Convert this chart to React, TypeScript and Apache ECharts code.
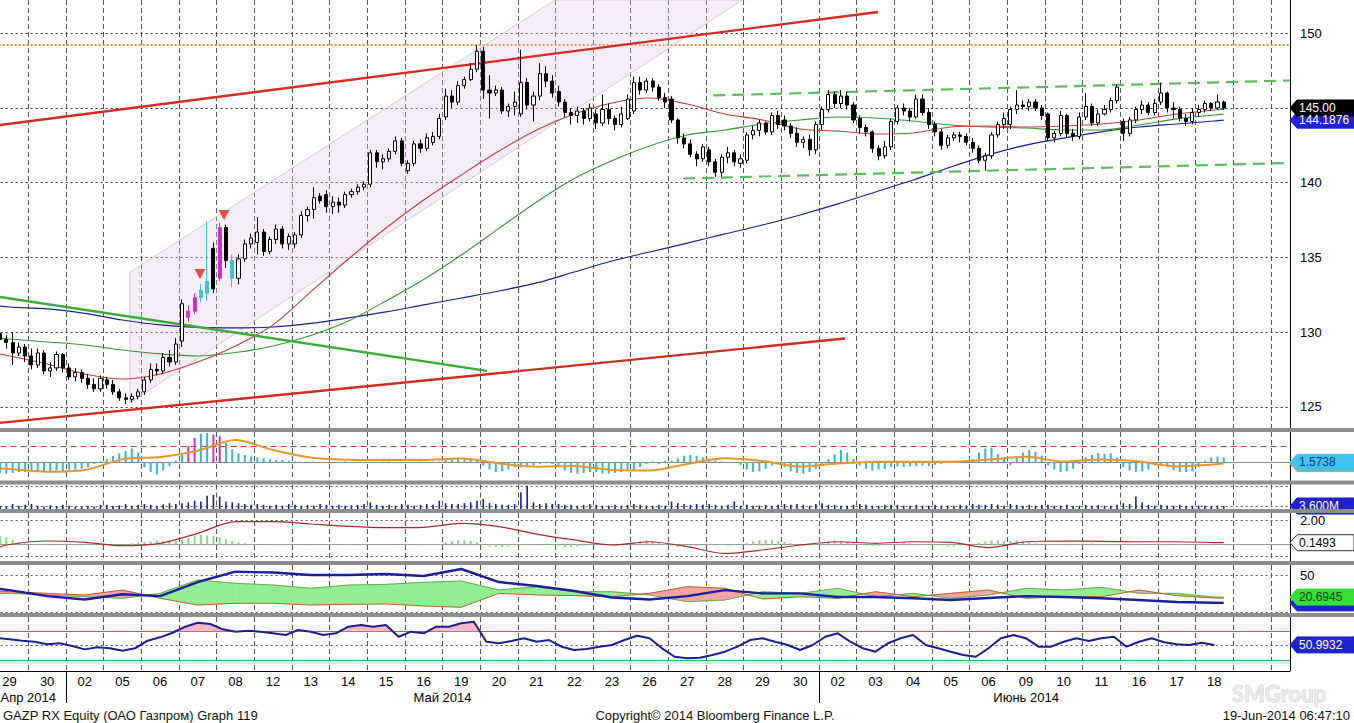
import React, { useEffect, useRef } from 'react';
import * as echarts from 'echarts';

const FONT = "'Liberation Sans', Arial, sans-serif";

// ---------- DATA ----------
const dayLabels = ['29','30','02','05','06','07','08','12','13','14','15','16','19','20','21','22','23','26','27','28','29','30','02','03','04','05','06','09','10','11','16','17','18'];
const monthNames = ['Апр 2014', 'Май 2014', 'Июнь 2014'];
const monthStartDay = [0, 2, 22];
const candlesPerDay = 6;

// [open, close, low, high]
const ohlc = [
  [129.6,129.9,129.3,130.2],[129.9,129.5,129.2,130.1],[129.5,129.3,128.9,129.8],[129.3,128.6,127.8,130.0],[128.6,129.0,128.4,129.3],[129.0,128.4,128.0,129.2],
  [128.4,127.8,127.5,128.9],[127.8,128.6,127.6,128.9],[128.6,127.4,127.2,128.8],[127.4,127.6,127.0,128.0],[127.6,128.5,127.4,128.7],[128.5,127.6,127.3,128.6],
  [127.6,127.0,126.8,127.9],[127.0,127.3,126.7,127.6],[127.3,126.9,126.6,127.5],[126.9,126.5,126.2,127.2],[126.5,126.2,126.0,126.9],[126.2,126.9,126.0,127.1],
  [126.8,126.5,126.2,127.0],[126.5,126.0,125.8,126.8],[126.0,125.6,125.4,126.2],[125.6,125.5,125.2,125.9],[125.5,125.7,125.3,125.9],[125.7,126.0,125.5,126.2],
  [126.0,126.8,125.8,127.0],[126.8,127.5,126.6,127.9],[127.5,127.4,127.1,127.9],[127.4,128.3,127.2,128.6],[128.3,128.0,127.7,128.8],[128.0,129.2,127.8,129.6],
  [129.4,131.9,129.0,132.2],[131.0,131.4,130.7,131.8],[131.4,132.3,131.2,132.6],[132.3,132.8,132.0,133.2],[132.6,133.4,132.1,137.4],[135.6,132.9,132.6,136.0],
  [133.6,137.0,133.4,137.3],[137.0,134.8,134.3,137.2],[134.8,133.6,133.0,135.2],[133.6,134.9,133.2,135.2],[134.9,135.9,134.7,136.2],[135.9,136.3,135.6,136.6],
  [136.0,136.7,135.2,137.7],[136.7,135.4,135.1,136.9],[135.4,136.2,135.2,136.4],[136.2,136.9,135.9,137.2],[136.9,135.9,135.6,137.1],[135.9,136.4,135.5,136.6],
  [135.9,136.5,135.6,136.7],[136.5,137.8,136.3,138.1],[137.8,138.2,137.4,138.4],[138.2,139.0,137.6,139.7],[139.1,138.8,138.6,139.3],[139.2,138.4,138.0,139.5],
  [138.4,138.7,137.9,139.1],[138.7,138.5,138.0,139.0],[138.5,139.2,138.3,139.4],[139.2,139.4,139.0,139.6],[139.4,139.7,139.2,139.9],[139.7,139.9,139.5,140.1],
  [139.9,142.0,139.7,142.2],[142.0,141.4,141.0,142.2],[141.4,141.6,140.9,141.9],[141.6,142.1,141.4,142.3],[142.1,142.8,141.9,143.1],[142.8,141.3,141.1,143.0],
  [140.8,141.3,140.6,141.5],[141.3,142.6,141.1,142.8],[142.6,142.3,142.0,142.9],[142.3,143.0,142.1,143.3],[142.7,143.1,142.5,143.4],[143.1,144.3,142.9,144.6],
  [144.4,145.8,144.2,146.3],[145.8,145.4,145.0,146.2],[145.4,146.5,145.2,146.8],[146.5,146.9,146.3,147.1],[146.9,147.6,146.8,148.0],[147.6,148.8,147.4,149.2],
  [148.8,146.2,145.6,149.1],[146.2,146.0,144.3,147.2],[146.0,146.2,145.8,146.5],[146.2,144.8,144.6,146.4],[144.8,145.1,144.4,145.3],[145.1,145.4,144.5,146.1],
  [144.6,146.7,144.4,148.9],[146.7,145.2,144.9,147.0],[145.2,145.8,144.1,146.1],[145.8,147.3,145.5,148.0],[147.3,146.8,146.4,147.8],[146.8,146.0,145.7,147.2],
  [146.1,145.4,145.1,146.5],[145.4,144.7,144.4,145.6],[144.7,144.5,143.9,145.0],[144.5,144.8,144.0,145.1],[144.8,144.3,143.9,145.0],[144.3,145.0,144.1,145.3],
  [144.6,144.0,143.6,144.9],[144.0,144.9,143.8,145.9],[144.9,144.3,143.9,145.3],[144.3,143.9,143.5,144.5],[143.9,144.6,143.7,145.1],[144.3,145.6,144.2,145.9],
  [144.8,146.7,144.6,147.1],[146.7,146.2,145.9,147.1],[146.2,146.8,146.0,147.0],[146.8,146.4,146.1,147.0],[146.4,145.7,145.5,146.6],[145.7,145.4,145.0,146.0],
  [145.6,144.2,144.0,145.8],[144.2,143.0,142.6,144.3],[143.0,142.6,142.3,143.3],[142.6,141.9,141.7,142.9],[141.9,141.6,141.1,142.1],[141.6,142.4,141.4,142.6],
  [142.2,141.4,141.1,142.4],[141.4,140.7,140.4,141.6],[140.7,141.7,140.4,141.9],[141.7,142.0,141.3,142.4],[142.0,141.4,141.1,142.2],[141.3,141.6,141.0,141.9],
  [141.5,143.2,141.3,143.4],[143.2,143.5,142.9,143.8],[143.5,144.0,143.1,144.2],[144.0,143.4,143.2,144.1],[143.4,144.5,143.2,144.7],[144.5,143.9,143.6,144.8],
  [144.2,143.8,143.5,144.5],[143.8,143.3,143.0,144.0],[143.3,142.7,142.4,143.7],[142.7,142.9,142.3,143.1],[142.9,142.2,141.8,143.2],[142.2,143.9,141.9,144.1],
  [143.9,144.9,143.5,145.1],[144.9,145.9,144.7,146.2],[145.9,145.3,145.0,146.1],[145.3,145.8,145.0,146.2],[145.8,145.2,144.9,146.1],[145.2,144.2,144.0,145.4],
  [144.3,143.7,143.3,144.5],[143.7,143.4,143.1,143.9],[143.4,142.3,142.0,143.5],[142.3,141.8,141.5,142.5],[141.8,142.4,141.6,142.8],[142.4,144.1,142.2,144.3],
  [144.1,145.0,143.9,145.2],[145.0,144.8,144.5,145.3],[144.8,144.4,144.1,145.0],[144.4,145.6,144.3,145.9],[145.6,144.7,144.5,145.9],[144.7,143.9,143.6,145.0],
  [143.9,143.4,143.1,144.1],[143.4,142.5,142.2,143.6],[142.5,143.0,142.3,143.2],[143.0,143.2,142.8,143.4],[143.2,143.1,142.7,143.4],[143.1,142.7,142.5,143.3],
  [142.7,142.3,142.0,143.0],[142.3,141.5,141.3,142.5],[141.5,141.8,140.8,142.0],[141.8,143.2,141.6,143.4],[143.2,143.9,143.0,144.1],[143.9,144.3,143.6,144.7],
  [143.9,144.9,143.6,145.1],[144.9,145.2,144.6,146.2],[145.2,145.1,144.9,145.5],[145.1,145.4,144.8,145.6],[145.4,145.0,144.8,145.6],[145.0,144.5,144.2,145.2],
  [144.6,143.0,142.8,144.7],[143.0,143.3,142.7,143.5],[143.3,144.5,143.1,144.8],[144.5,143.3,143.0,144.6],[143.3,143.1,142.8,143.6],[143.1,144.4,142.9,144.7],
  [144.4,145.1,144.2,146.0],[145.1,144.0,143.8,145.3],[144.0,144.6,143.8,144.9],[144.6,144.9,144.5,145.2],[144.9,145.5,144.7,145.7],[145.5,146.4,145.3,146.6],
  [144.1,143.3,142.8,144.3],[143.3,144.2,143.1,144.4],[144.2,144.9,144.0,145.1],[144.9,145.2,144.6,145.5],[145.2,144.7,144.5,145.4],[144.7,145.3,144.5,145.6],
  [145.4,146.0,145.2,146.7],[146.0,145.0,144.7,146.1],[145.0,144.9,144.3,145.4],[144.9,144.3,144.1,145.1],[144.3,144.1,143.8,144.6],[144.1,144.7,143.9,145.0],
  [144.7,144.9,144.4,145.2],[144.9,145.3,144.7,145.5],[145.3,145.0,144.8,145.4],[145.0,145.4,144.9,145.9],[145.4,145.0,144.9,145.5],
];
const magentaCandles = [31, 32, 36];
const cyanCandles = [33, 34, 38];

const volumeM = [
  5,4,3.5,6,4,5, 6,4,3,4.5,3.5,5, 4,3,3.5,4,3,5, 5,4,4.5,6,4,5, 6,5,4,5.5,7,6,
  7,8,10,9,16,17, 15,9,8,7,6,5, 6,5,4,5,4,6, 5,4,5,4,6,5, 4,5,4,4.5,5,6,
  8,5,4,5,4,6, 5,4,5,6,5,10, 7,6,6,7,8,10, 12,7,6,5,5,6, 20,28,8,6,7,6,
  6,5,5,4,5,6, 5,4,4,5,4,5, 6,5,4,4,5,4, 9,7,6,5,6,5, 6,5,4,5,9,4,
  5,4,4,5,4,5, 6,5,6,5,4,6, 7,5,5,4,4,5, 6,5,4,4,5,5, 5,4,4,5,4,4,
  5,4,4,4,5,4, 6,5,5,6,5,4, 6,5,4,5,4,5, 5,4,4,5,4,4, 5,4,5,4,4,5,
  7,6,15,8,5,4, 5,4,4,5,4,4, 4,4,3.5,4,3.6,
];

const macdHist = [
  -0.6,-0.65,-0.7,-0.65,-0.6,-0.6, -0.55,-0.6,-0.6,-0.55,-0.5,-0.55, -0.45,-0.45,-0.4,-0.3,-0.1,0.05,
  0.2,0.4,0.55,0.7,0.85,0.6, -0.3,-0.6,-0.75,-0.5,-0.25,0.1, 0.5,1.0,1.5,1.75,1.8,1.7,
  1.6,1.2,0.8,0.55,0.45,0.35, 0.3,0.25,0.2,0.15,0.15,0.1, 0.05,0.03,0.02,0.04,0.02,0.03,
  0.02,0.03,0.05,0.02,0.03,0.02, 0.03,0.02,0.03,0.04,0.02,0.01, 0.02,0.01,0.03,0.02,0.04,0.05,
  0.15,0.25,0.3,0.28,0.25,0.2, -0.2,-0.45,-0.6,-0.55,-0.45,-0.3, -0.3,-0.25,-0.2,-0.1,-0.05,-0.1,
  -0.3,-0.5,-0.65,-0.7,-0.65,-0.6, -0.6,-0.7,-0.7,-0.65,-0.6,-0.55, -0.5,-0.3,-0.1,0.05,-0.1,0.1,
  0.1,0.25,0.4,0.45,0.4,0.3, 0.2,0.1,0.05,0.02,-0.05,-0.15, -0.45,-0.6,-0.55,-0.4,-0.2,-0.1,
  -0.3,-0.55,-0.65,-0.7,-0.6,-0.4, -0.2,0.2,0.5,0.75,0.6,0.2, -0.2,-0.4,-0.5,-0.45,-0.4,-0.3,
  -0.25,-0.3,-0.25,-0.25,-0.2,-0.25, -0.15,-0.1,0.05,0.08,0.02,-0.05, 0.2,0.6,0.85,0.9,0.5,0.2,
  -0.2,0.3,0.6,0.75,0.65,0.4, -0.2,-0.45,-0.6,-0.55,-0.4,-0.1, 0.3,0.45,0.55,0.5,0.55,0.3,
  -0.3,-0.5,-0.6,-0.55,-0.45,-0.2, -0.1,-0.3,-0.5,-0.6,-0.6,-0.55, -0.3,0.1,0.3,0.35,0.3,
];
const histMagenta = [31, 32, 35, 36];

const oscHist = [
  0.6,0.7,0.6,0.4,0.2,0.1, 0.05,0,-0.05,0,0.02,0, -0.05,-0.05,-0.08,-0.05,-0.05,-0.03,
  -0.05,-0.03,0,0.05,0.1,0.15, 0.2,0.25,0.3,0.3,0.35,0.3, 0.4,0.55,0.7,0.8,0.75,0.7,
  0.6,0.45,0.3,0.2,0.1,0.05, 0.02,0,-0.02,0.03,0.02,0, 0.01,0.02,0,0.01,0.02,0,
  0,0.01,0.02,0.01,0,0.01, 0.02,0.01,0,0.01,0.02,0.01, 0,0.02,0.04,0.02,0,0.02,
  0.15,0.25,0.35,0.35,0.3,0.2, -0.05,-0.15,-0.2,-0.2,-0.15,-0.1, -0.05,0,0.02,0,-0.02,-0.05,
  -0.1,-0.2,-0.2,-0.15,-0.1,-0.05, 0,0.02,0,0.02,0.05,0.1, 0.2,0.3,0.35,0.3,0.2,0.05,
  -0.1,-0.2,-0.2,-0.15,-0.1,0, 0.05,0.02,-0.05,-0.1,-0.05,0, 0.1,0.25,0.35,0.4,0.35,0.3,
  0.2,0.1,0.02,0,-0.02,0, 0.1,0.25,0.35,0.3,0.2,0.1, -0.05,-0.1,-0.12,-0.1,-0.05,0,
  0.05,0.1,0.08,0.05,0.02,0, -0.05,-0.1,-0.15,-0.15,-0.1,-0.05, 0.05,0.15,0.25,0.35,0.35,0.3,
  0.3,0.35,0.3,0.2,0.1,0.05, 0.02,0,0.03,0.05,0.03,0, 0.05,0.08,0.05,0.03,0.02,0.04,
  0.03,0.05,0.02,0,0.02,0.03, 0.02,0,0.01,0.03,0.02,0, 0.02,0.03,0.02,0,0.01,
];

// line values at: left edge, the middle of each day, end of data
const maRed = [128.67,128.40,127.87,127.20,126.86,127.20,128.0,129.07,130.48,132.69,134.89,136.97,138.84,140.52,142.12,143.53,144.60,145.34,145.67,145.27,144.60,144.20,143.60,143.46,143.26,143.33,143.73,143.80,143.73,143.80,143.93,144.20,144.60,144.87,144.90];
const maGreen = [129.61,129.54,129.34,129.14,128.80,128.54,128.40,128.63,129.07,129.77,130.74,132.08,133.52,135.16,136.94,138.71,140.28,141.47,142.46,143.19,143.53,143.93,144.20,144.40,144.33,144.13,143.86,143.73,143.66,143.53,143.53,143.86,144.27,144.53,144.60];
const maBlue = [131.81,131.68,131.55,131.25,130.81,130.48,130.31,130.28,130.34,130.58,130.95,131.35,131.82,132.28,132.75,133.29,134.02,134.76,135.36,135.96,136.57,137.17,137.84,138.58,139.38,140.18,141.05,141.86,142.52,142.99,143.40,143.73,143.93,144.13,144.19];
const macdSignal = [-0.35,-0.41,-0.58,-0.47,0.18,0.33,0.71,1.37,0.75,0.29,0.16,0.14,0.14,0.23,-0.07,-0.27,-0.23,-0.47,-0.5,-0.1,0.25,0.08,-0.26,-0.07,0.04,0.04,0.03,0.17,0.34,0.05,0.17,0.05,-0.26,-0.13,-0.08];
const oscLine = [-0.45,0.0,0.29,0.18,-0.1,0.1,0.93,1.9,1.9,1.71,1.51,1.4,1.43,1.76,1.49,0.87,0.38,-0.04,0.23,-0.18,-0.74,-0.46,-0.04,0.23,0.1,0.23,0.18,-0.26,0.23,0.29,0.26,0.23,0.23,0.16,0.1493];
const adx = [32.8,30,22,17.5,24.4,22,40.7,54.4,53.3,50,50,51.3,48.7,58,40.7,35.4,28.8,20.2,17.5,22,30,25.7,25.7,20.8,20.8,19.1,16.8,19.5,22,20.8,19.1,16.8,14.2,13.3,13.0];
const diPlus = [25,25.7,23.5,21.2,19.1,25.7,43.4,39,36.7,32.4,36.7,37.6,40.3,42,30.1,34.5,27.9,27.9,23.5,14.6,16.8,27.9,25.7,32.4,21.2,25.7,19.1,23.5,32.4,30.1,33.7,25.7,25.7,20.7,20.69];
const diMinus = [28,27.9,25.7,23.5,30.1,19.1,10.2,12.5,12.5,10.2,11.1,11.6,8.9,7.2,25.7,23.5,22.6,21.2,25.7,34.5,32.4,18.2,21.2,19.1,27.9,21.2,25.7,30.1,19.1,21.2,21.2,30.1,22.6,19.5,19.2];

// RSI, three readings per day
const rsi = [
  60.3,58.5,56.7, 55.3,51.8,53.2, 49.5,45.0,47.7, 46.4,43.2,46.4, 56.7,61.2,67.4, 75.5,80.9,79.2,
  72.0,68.8,70.1, 68.8,66.6,64.3, 71.1,68.8,64.3, 66.6,75.5,77.8, 75.5,77.8,62.0, 68.8,66.6,75.5,
  75.5,80.1,82.3, 55.3,53.2,56.3, 59.9,55.3,57.6, 48.6,44.1,45.5, 48.6,50.9,57.6, 63.4,59.9,46.4,
  35.1,33.0,33.8, 37.4,41.9,48.6, 57.6,59.9,55.3, 50.9,44.1,50.9, 62.0,66.6,55.3, 46.4,41.9,53.2,
  59.9,64.3,50.9, 46.4,41.9,37.4, 35.1,46.4,59.9, 64.3,59.9,48.6, 48.6,55.3,59.9, 56.3,59.9,62.0,
  48.6,55.3,59.9, 54.5,51.8,50.9, 54.0,51.0,
];

const priceTicks = [125, 130, 135, 140, 145, 150];
const highLevel = 149.22;
const lastPrice = 145.0;
const lastMa200 = 144.1876;
const rsiLevels = [30, 50, 70];

// drawn studies, in [day, price]
const trendUpper = [[0, 143.78], [23.57, 151.43]];
const trendLower = [[0, 123.86], [22.69, 129.57]];
const trendGreen = [[0, 132.45], [13.18, 127.40]];
const channelTop = [[19.19, 145.84], [34.51, 146.84]];
const channelBottom = [[18.39, 140.28], [34.51, 141.32]];
const regressionBand = [[3.70, 134.02], [14.99, 152.23], [19.96, 152.23], [3.70, 125.26]];
const signalMarks = [[5.56, 133.89], [6.20, 137.84]];

const panelLabelText = ['1.5738', '3.600M', '0.1493', '20.6945', '50.9932'];
const panelLabelValue = [0, 3.6, 0.1493, 20.6945, 50.9932];

// ---------- LAYOUT ----------
const GRID_LEFT = -9.35;
const GRID_RIGHT = 64;
const AXIS_X = 1290;
const X_MAX = 34.51;
const grids = [
  { top: 0, height: 428 },
  { top: 432, height: 48.5 },
  { top: 484.5, height: 24.5 },
  { top: 513, height: 48 },
  { top: 565, height: 48 },
  { top: 617, height: 54 },
];
const yRanges = [
  [123.58, 152.23],
  [-1.117, 1.859],
  [0, 29.4],
  [-1.375, 2.625],
  [-0.4, 63.3],
  [15.86, 88.59],
];

const candleX = (i: number) => Math.floor(i / candlesPerDay) + ((i % candlesPerDay) + 0.5) / candlesPerDay;
const rsiX = (j: number) => Math.floor(j / 3) + ((j % 3) + 0.5) / 3;
const lineX = [0, ...Array.from({ length: 33 }, (_, k) => k + 0.5), 32.75];
const pairs = (vals: number[]) => vals.map((v, i) => [lineX[i], v]);

function fillBetween(xs: number[], a: number[], b: number[], upColor: string | null, downColor: string | null, axis: number, z: number) {
  const data = xs.slice(0, -1).map((x, i) => [x, a[i], xs[i + 1], a[i + 1], b[i], b[i + 1]]);
  return {
    type: 'custom', xAxisIndex: axis, yAxisIndex: axis, z, silent: true, clip: true,
    dimensions: ['x0', 'a0', 'x1', 'a1', 'b0', 'b1'],
    encode: { x: [0, 2], y: [1, 3, 4, 5] },
    data,
    renderItem: (params: any, api: any) => {
      const x0 = api.value(0), a0 = api.value(1), x1 = api.value(2), a1 = api.value(3), b0 = api.value(4), b1 = api.value(5);
      const d0 = a0 - b0, d1 = a1 - b1;
      const P = (x: number, y: number) => api.coord([x, y]);
      const children: any[] = [];
      const add = (pts: number[][], up: boolean) => {
        const fill = up ? upColor : downColor;
        if (fill) children.push({ type: 'polygon', shape: { points: pts }, style: { fill, stroke: fill, lineWidth: 0.6 } });
      };
      if (d0 * d1 < 0) {
        const t = d0 / (d0 - d1);
        const xc = x0 + t * (x1 - x0), yc = a0 + t * (a1 - a0);
        add([P(x0, a0), P(xc, yc), P(x0, b0)], d0 > 0);
        add([P(xc, yc), P(x1, a1), P(x1, b1)], d1 > 0);
      } else {
        add([P(x0, a0), P(x1, a1), P(x1, b1), P(x0, b0)], d0 + d1 > 0);
      }
      return { type: 'group', children };
    },
  };
}

const dotted = (color = '#444') => ({ color, type: [2, 3] as any, width: 1 });

function hLines(levels: { v: number; style: any }[]) {
  return {
    symbol: ['none', 'none'], silent: true, z: 1, animation: false,
    label: { show: false },
    data: levels.map((l) => ({ yAxis: l.v, lineStyle: l.style })),
  };
}

function buildOption() {
  const xAxes: any[] = grids.map((_, i) => ({
    type: 'value', gridIndex: i, min: 0, max: X_MAX, interval: 1,
    axisLine: { show: i === 5, onZero: false, lineStyle: { color: '#000', width: 1 } },
    axisTick: { show: false }, axisLabel: { show: false },
    splitLine: { show: true, lineStyle: { color: '#555', type: [5, 3], width: 1 } },
  }));
  const labelAxis = (offset: number, formatter: (v: number) => string) => ({
    type: 'value', gridIndex: 5, position: 'bottom', offset, min: 0, max: X_MAX, interval: 0.5,
    axisLine: { show: false }, axisTick: { show: false }, splitLine: { show: false },
    axisLabel: { show: true, margin: 4, color: '#000', fontSize: 13, fontFamily: FONT, formatter },
  });
  xAxes.push(labelAxis(0, (v) => {
    const k = v - 0.5;
    const r = Math.round(k);
    return Math.abs(k - r) < 1e-6 && r >= 0 && r < dayLabels.length ? dayLabels[r] : '';
  }));
  xAxes.push(labelAxis(16, (v) => {
    for (let m = 0; m < monthNames.length; m++) {
      const end = m + 1 < monthStartDay.length ? monthStartDay[m + 1] : dayLabels.length;
      if (Math.abs((monthStartDay[m] + end) / 2 - v) < 1e-6) return monthNames[m];
    }
    return '';
  }));

  const yAxes: any[] = grids.map((_, i) => i === 0 ? {
    type: 'value', gridIndex: 0, position: 'right', min: yRanges[0][0], max: yRanges[0][1],
    axisLine: { show: false },
    axisTick: { show: true, length: 6, lineStyle: { color: '#000' } },
    minorTick: { show: true, splitNumber: 2, length: 3, lineStyle: { color: '#000' } },
    axisLabel: {
      show: true, margin: 10, color: '#000', fontSize: 13, fontFamily: FONT, showMinLabel: false, showMaxLabel: false,
      // the last-price box sits over this tick, as in the original
      formatter: (v: number) => (Math.abs(v - lastPrice) < 1e-6 ? '' : String(v)),
    },
    splitLine: { show: false },
  } : {
    type: 'value', gridIndex: i, position: 'right', min: yRanges[i][0], max: yRanges[i][1], show: false,
    splitLine: { show: false },
  });

  const line = (data: any[], axis: number, color: string, width: number, extra: any = {}) => ({
    type: 'line', xAxisIndex: axis, yAxisIndex: axis, data, showSymbol: false, symbol: 'none', silent: true,
    lineStyle: { color, width }, z: 3, ...extra,
  });

  const candleData = ohlc.map((c, i) => {
    const value = [candleX(i), c[0], c[1], c[2], c[3]];
    const col = magentaCandles.includes(i) ? '#c934c9' : cyanCandles.includes(i) ? '#3cc3d6' : null;
    return col ? { value, itemStyle: { color: col, color0: col, borderColor: col, borderColor0: col } } : value;
  });

  const series: any[] = [
    {
      type: 'custom', xAxisIndex: 0, yAxisIndex: 0, z: 1, silent: true, clip: true,
      encode: { x: 0, y: 1 }, data: regressionBand,
      renderItem: (params: any, api: any) => params.dataIndex !== 0 ? null : ({
        type: 'polygon', shape: { points: regressionBand.map((p) => api.coord(p)) },
        style: { fill: 'rgba(222,196,232,0.33)', stroke: '#d9c5de', lineWidth: 1 },
      }),
    },
    line(pairs(maBlue), 0, '#1b1f8f', 1.2, {
      smooth: 0.3,
      markLine: hLines([
        ...priceTicks.map((v) => ({ v, style: dotted('#333') })),
        { v: highLevel, style: { color: '#e58a2c', type: [2, 2], width: 2 } },
      ]),
    }),
    line(pairs(maGreen), 0, '#2f9a2f', 1.1, { smooth: 0.3 }),
    line(pairs(maRed), 0, '#c73b3b', 1.1, { smooth: 0.3 }),
    line(trendUpper, 0, '#d42a22', 2.4),
    line(trendLower, 0, '#d42a22', 2.4),
    line(trendGreen, 0, '#3aab37', 2.4),
    line(channelTop, 0, '#5cbc5c', 2.2, { lineStyle: { color: '#5cbc5c', width: 2.2, type: [12, 7] } }),
    line(channelBottom, 0, '#5cbc5c', 2.2, { lineStyle: { color: '#5cbc5c', width: 2.2, type: [12, 7] } }),
    {
      type: 'candlestick', xAxisIndex: 0, yAxisIndex: 0, z: 4, barWidth: 3.6, silent: true,
      itemStyle: { color: '#ffffff', color0: '#000000', borderColor: '#000000', borderColor0: '#000000', borderWidth: 1 },
      data: candleData,
    },
    {
      type: 'scatter', xAxisIndex: 0, yAxisIndex: 0, z: 6, silent: true,
      symbol: 'triangle', symbolRotate: 180, symbolSize: [11, 10],
      itemStyle: { color: '#e3241c' }, data: signalMarks,
    },
    // panel 1
    {
      type: 'bar', xAxisIndex: 1, yAxisIndex: 1, barWidth: 2, z: 3, silent: true,
      data: macdHist.map((v, i) => ({ value: [candleX(i), v], itemStyle: { color: histMagenta.includes(i) ? '#d02fc4' : '#35b6d8' } })),
      markLine: hLines([
        { v: 0, style: { color: '#888', type: 'solid', width: 1 } },
        { v: 1, style: { color: '#c0392b', type: [6, 4], width: 1 } },
      ]),
    },
    line(pairs(macdSignal), 1, '#e8962a', 2, { smooth: 0.3 }),
    // panel 2 volume
    {
      type: 'bar', xAxisIndex: 2, yAxisIndex: 2, barWidth: 1.6, z: 3, silent: true,
      itemStyle: { color: '#1b1f9c' },
      data: volumeM.map((v, i) => [candleX(i), v]),
      markLine: hLines([{ v: 3.6, style: dotted('#555') }, { v: 26.8, style: dotted('#555') }]),
    },
    // panel 3
    {
      type: 'bar', xAxisIndex: 3, yAxisIndex: 3, barWidth: 2, z: 3, silent: true,
      itemStyle: { color: '#86d986' },
      data: oscHist.map((v, i) => [candleX(i), v]),
      markLine: hLines([
        { v: 0, style: { color: '#999', type: 'solid', width: 1 } },
        { v: 2, style: dotted('#555') },
        { v: -1, style: dotted('#555') },
      ]),
    },
    line(pairs(oscLine), 3, '#a82a2a', 1.2, { smooth: 0.3 }),
    // panel 4
    fillBetween(lineX, diPlus, diMinus, '#93ee93', '#f4a6a6', 4, 2),
    line(pairs(diPlus), 4, '#6aa84f', 1),
    line(pairs(diMinus), 4, '#b5652e', 1),
    line(pairs(adx), 4, '#1b1f9c', 2.4, {
      z: 4,
      markLine: hLines([{ v: 50, style: dotted('#555') }, { v: 0, style: dotted('#555') }]),
    }),
    // panel 5
    fillBetween(rsi.map((_, j) => rsiX(j)), rsi, rsi.map(() => rsiLevels[2]), '#f5b7c8', null, 5, 2),
    line(rsi.map((v, j) => [rsiX(j), v]), 5, '#1b1f8f', 2, {
      z: 4,
      markLine: hLines([
        { v: rsiLevels[2], style: { color: '#d9534f', type: 'solid', width: 1 } },
        { v: rsiLevels[1], style: dotted('#555') },
        { v: rsiLevels[0], style: { color: '#3cb371', type: 'solid', width: 1.2 } },
      ]),
      markArea: {
        silent: true, z: 1,
        itemStyle: { color: '#cdf3da' },
        data: [[{ yAxis: 25.3 }, { yAxis: 29.7 }]],
      },
    }),
  ];

  return {
    animation: false,
    backgroundColor: '#ffffff',
    textStyle: { fontFamily: FONT },
    grid: grids.map((g) => ({
      left: GRID_LEFT, right: GRID_RIGHT, top: g.top, height: g.height,
      containLabel: false, outerBoundsMode: 'none', show: false,
    })),
    xAxis: xAxes,
    yAxis: yAxes,
    series,
  };
}

function buildGraphics(chart: any) {
  const yPix = (a: number, v: number) => chart.convertToPixel({ yAxisIndex: a }, v) as number;
  const xPix = (a: number, v: number) => chart.convertToPixel({ xAxisIndex: a }, v) as number;
  const W = 1354;
  const xAxisY = grids[5].top + grids[5].height;
  const els: any[] = [];

  els.push({ type: 'line', z: 90, silent: true, shape: { x1: AXIS_X + 0.5, y1: 0, x2: AXIS_X + 0.5, y2: xAxisY }, style: { stroke: '#000', lineWidth: 1 } });

  for (let m = 1; m < monthStartDay.length; m++) {
    const x = Math.round(xPix(5, monthStartDay[m])) + 0.5;
    els.push({ type: 'line', z: 90, silent: true, shape: { x1: x, y1: xAxisY, x2: x, y2: xAxisY + 32 }, style: { stroke: '#000', lineWidth: 1 } });
  }

  const box = (y: number, text: string, fill: string, color: string, stroke?: string) => {
    els.push({
      type: 'polygon', z: 110, silent: true,
      shape: { points: [[AXIS_X, y], [AXIS_X + 7, y - 8], [W, y - 8], [W, y + 8], [AXIS_X + 7, y + 8]] },
      style: { fill, stroke: stroke || fill, lineWidth: 1 },
    });
    if (text) {
      els.push({ type: 'text', z: 111, silent: true, x: AXIS_X + 9, y, style: { text, fill: color, font: `12px ${FONT}`, align: 'left', verticalAlign: 'middle' } });
    }
  };

  box(yPix(0, lastMa200), String(lastMa200), '#1f23c9', '#ffffff');
  box(yPix(0, lastPrice), lastPrice.toFixed(2), '#000000', '#ffffff');
  box(yPix(1, macdSignal[macdSignal.length - 1]), '', '#eb9b2d', '#000');
  box(yPix(1, panelLabelValue[0]), panelLabelText[0], '#40c4ee', '#123a70');
  box(yPix(2, panelLabelValue[1]), panelLabelText[1], '#1f23c9', '#ffffff');
  box(yPix(3, panelLabelValue[2]), panelLabelText[2], '#ffffff', '#000000', '#333');
  box(yPix(4, adx[adx.length - 1]), '', '#1f23c9', '#fff');
  box(yPix(4, panelLabelValue[3]), panelLabelText[3], '#35e035', '#0b3d0b');
  box(yPix(5, panelLabelValue[4]), panelLabelText[4], '#1f23c9', '#ffffff');

  const plain = (y: number, text: string) => els.push({ type: 'text', z: 111, silent: true, x: AXIS_X + 10, y, style: { text, fill: '#000', font: `13px ${FONT}`, align: 'left', verticalAlign: 'middle' } });
  plain(yPix(3, 2), '2.00');
  plain(yPix(4, 50), '50');

  // separators between panels
  for (let i = 0; i < grids.length - 1; i++) {
    els.push({ type: 'rect', z: 120, silent: true, shape: { x: 0, y: grids[i].top + grids[i].height, width: W, height: grids[i + 1].top - grids[i].top - grids[i].height }, style: { fill: '#8e8e8e' } });
  }

  // footer
  els.push({ type: 'text', z: 100, silent: true, x: 1232, y: 693, style: { text: 'SMGroup', fill: '#e9e9e9', stroke: '#d2d2d2', lineWidth: 1, font: `bold 22px Lato, ${FONT}`, align: 'left', verticalAlign: 'middle' } });
  els.push({ type: 'text', z: 101, silent: true, x: 3, y: 715, style: { text: 'GAZP RX Equity (ОАО Газпром) Graph 119', fill: '#111', font: `13px ${FONT}`, align: 'left', verticalAlign: 'middle' } });
  els.push({ type: 'text', z: 101, silent: true, x: 715, y: 715, style: { text: 'Copyright© 2014 Bloomberg Finance L.P.', fill: '#111', font: `13px ${FONT}`, align: 'center', verticalAlign: 'middle' } });
  els.push({ type: 'text', z: 101, silent: true, x: 1350, y: 715, style: { text: '19-Jun-2014 06:47:10', fill: '#111', font: `13px ${FONT}`, align: 'right', verticalAlign: 'middle' } });
  return els;
}

export default function App() {
  const ref = useRef<HTMLDivElement>(null);
  useEffect(() => {
    if (!ref.current) return;
    const chart = echarts.init(ref.current, undefined, { renderer: 'svg' });
    chart.setOption(buildOption() as any);
    chart.setOption({ graphic: buildGraphics(chart) } as any);
    return () => chart.dispose();
  }, []);
  return <div ref={ref} style={{ position: 'fixed', left: 0, top: 0, width: 1354, height: 723, background: '#fff' }} />;
}
